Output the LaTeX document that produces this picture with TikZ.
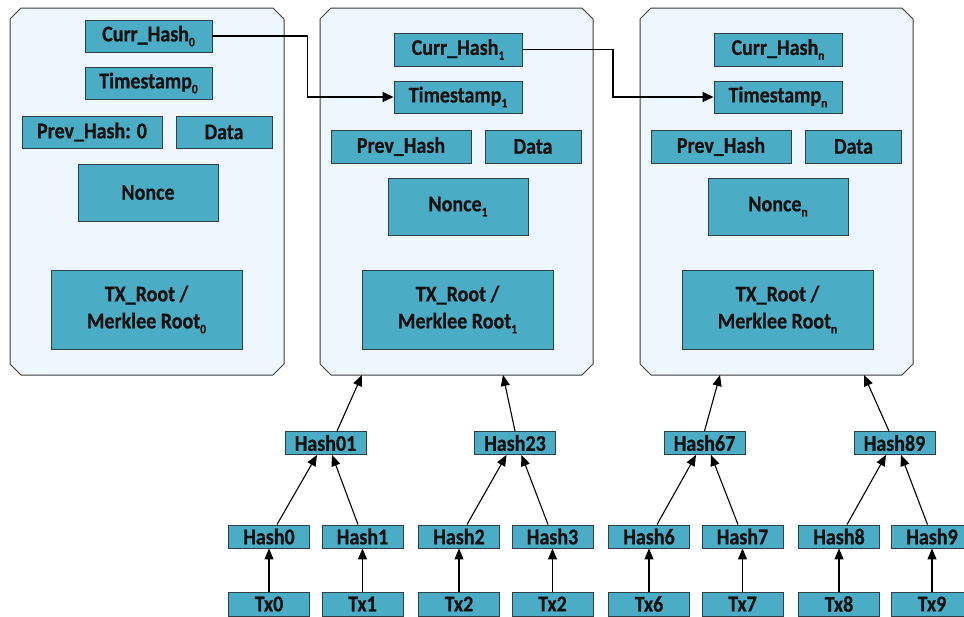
\documentclass[tikz,border=0pt]{standalone}
\usepackage{fontspec}
\setmainfont{Carlito}[FakeStretch=0.89, BoldFeatures={FakeBold=0.6}]
\usetikzlibrary{arrows.meta}
\definecolor{boxteal}{HTML}{4BACC6}
\definecolor{boxedge}{HTML}{2E3F45}
\definecolor{blockfill}{HTML}{EEF7FD}
\definecolor{blockedge}{HTML}{3C3C3C}
\definecolor{inkdark}{HTML}{111111}
\newcommand{\lowidx}[1]{\raisebox{-0.22em}{\fontsize{13}{13}\selectfont #1}}
% chamfered outline around a named block node
\newcommand{\blockframe}[1]{%
  \draw[blockline] ([xshift=11pt]#1.north west) -- ([xshift=-11pt]#1.north east)
    -- ([yshift=-11pt]#1.north east) -- ([yshift=11pt]#1.south east)
    -- ([xshift=-11pt]#1.south east) -- ([xshift=11pt]#1.south west)
    -- ([yshift=11pt]#1.south west) -- ([yshift=-11pt]#1.north west) -- cycle;}
\tikzset{
  blockbox/.style={rectangle, inner sep=0pt, outer sep=0pt,
    minimum width=274pt, minimum height=367pt},
  blockline/.style={draw=blockedge, line width=1pt, fill=blockfill},
  field/.style={rectangle, draw=boxedge, line width=0.9pt, fill=boxteal,
    inner sep=0pt, text=inkdark, font=\bfseries\fontsize{22.5}{25}\selectfont,
    align=center},
  treebox/.style={field, minimum width=81pt, minimum height=23pt},
  txbox/.style={field, minimum width=81pt, minimum height=24pt},
  link/.style={draw=black, line width=1.1pt,
    -{Triangle[length=11pt,width=9pt]}},
  chainlink/.style={draw=black, line width=1.1pt,
    -{Triangle[length=11pt,width=10pt]}}
}
\begin{document}
\begin{tikzpicture}[x=1pt,y=-1pt]
\useasboundingbox (0,0) rectangle (964,616);
\fill[white] (0,0) rectangle (964,616);

% ---- blocks ----
\node[blockbox] (blk0) at (147,191.5) {};
\node[blockbox, minimum width=273pt] (blk1) at (456.5,191.5) {};
\node[blockbox, minimum width=273pt] (blk2) at (776.5,191.5) {};
\blockframe{blk0}
\blockframe{blk1}
\blockframe{blk2}

% block 0 (genesis)
\node[field, minimum width=127pt, minimum height=32pt] (curr0) at (148.5,36) {Curr\_Hash\lowidx{0}};
\node[field, minimum width=127pt, minimum height=32pt] (time0) at (148.5,83) {Timestamp\lowidx{0}};
\node[field, minimum width=140pt, minimum height=32pt] (prev0) at (92,132) {Prev\_Hash: 0};
\node[field, minimum width=96pt, minimum height=32pt] (data0) at (224,132) {Data};
\node[field, minimum width=140pt, minimum height=57pt] (nonce0) at (148,192.5) {Nonce};
\node[field, minimum width=191pt, minimum height=79pt] (root0) at (146.5,309.5) {TX\_Root /\\[2pt]Merklee Root\lowidx{0}};

% block 1
\node[field, minimum width=128pt, minimum height=33pt] (curr1) at (458,49.5) {Curr\_Hash\lowidx{1}};
\node[field, minimum width=128pt, minimum height=32pt] (time1) at (458,97) {Timestamp\lowidx{1}};
\node[field, minimum width=140pt, minimum height=33pt] (prev1) at (401,146.5) {Prev\_Hash};
\node[field, minimum width=96pt, minimum height=33pt] (data1) at (533,146.5) {Data};
\node[field, minimum width=140pt, minimum height=57pt] (nonce1) at (458,206.5) {Nonce\lowidx{1}};
\node[field, minimum width=191pt, minimum height=79pt] (root1) at (457.5,309.5) {TX\_Root /\\[2pt]Merklee Root\lowidx{1}};

% block n
\node[field, minimum width=128pt, minimum height=33pt] (curr2) at (778,49.5) {Curr\_Hash\lowidx{n}};
\node[field, minimum width=128pt, minimum height=32pt] (time2) at (778,97) {Timestamp\lowidx{n}};
\node[field, minimum width=140pt, minimum height=33pt] (prev2) at (721,146.5) {Prev\_Hash};
\node[field, minimum width=96pt, minimum height=33pt] (data2) at (853.5,146.5) {Data};
\node[field, minimum width=140pt, minimum height=57pt] (nonce2) at (778,206.5) {Nonce\lowidx{n}};
\node[field, minimum width=191pt, minimum height=79pt] (root2) at (777.5,309.5) {TX\_Root /\\[2pt]Merklee Root\lowidx{n}};

% chain links: current hash feeds the next block
\draw[chainlink] (curr0.east) -| (307.5,97) -- (time1.west);
\draw[chainlink] (curr1.east) -| (613,97) -- (time2.west);

% ---- Merkle trees ----
\node[treebox] (h01) at (325.5,443) {Hash01};
\node[treebox] (h23) at (515,443) {Hash23};
\node[treebox] (h67) at (704.5,443) {Hash67};
\node[treebox] (h89) at (894.5,443) {Hash89};

\node[treebox] (h0) at (269,536.5) {Hash0};
\node[treebox] (h1) at (362.5,536.5) {Hash1};
\node[treebox] (h2) at (459,536.5) {Hash2};
\node[treebox] (h3) at (552.5,536.5) {Hash3};
\node[treebox] (h6) at (649,536.5) {Hash6};
\node[treebox] (h7) at (742.5,536.5) {Hash7};
\node[treebox] (h8) at (839,536.5) {Hash8};
\node[treebox] (h9) at (932,536.5) {Hash9};

\node[txbox] (t0) at (269,604) {Tx0};
\node[txbox] (t1) at (362.5,604) {Tx1};
\node[txbox] (t2) at (459,604) {Tx2};
\node[txbox] (t3) at (552.5,604) {Tx2};
\node[txbox] (t6) at (649,604) {Tx6};
\node[txbox] (t7) at (742.5,604) {Tx7};
\node[txbox] (t8) at (839,604) {Tx8};
\node[txbox] (t9) at (932,604) {Tx9};

% transactions to leaf hashes
\foreach \a/\b in {t0/h0,t1/h1,t2/h2,t3/h3,t6/h6,t7/h7,t8/h8,t9/h9}
  \draw[link] (\a.north) -- (\b.south);

% leaf hashes to pair hashes
\draw[link] ([xshift=8pt]h0.north) -- ([xshift=-8.5pt]h01.south);
\draw[link] ([xshift=-4.5pt]h1.north) -- ([xshift=6.5pt]h01.south);
\draw[link] ([xshift=8pt]h2.north) -- ([xshift=-8.5pt]h23.south);
\draw[link] ([xshift=-4.5pt]h3.north) -- ([xshift=6.5pt]h23.south);
\draw[link] ([xshift=8pt]h6.north) -- ([xshift=-8.5pt]h67.south);
\draw[link] ([xshift=-4.5pt]h7.north) -- ([xshift=6.5pt]h67.south);
\draw[link] ([xshift=8pt]h8.north) -- ([xshift=-8.5pt]h89.south);
\draw[link] ([xshift=-4.5pt]h9.north) -- ([xshift=6.5pt]h89.south);

% pair hashes up to the block headers
\draw[link] ([xshift=11.5pt]h01.north) -- ([xshift=-94.5pt]blk1.south);
\draw[link] (h23.north) -- ([xshift=46.5pt]blk1.south);
\draw[link] (h67.north) -- ([xshift=-56.5pt]blk2.south);
\draw[link] ([xshift=-5.5pt]h89.north) -- ([xshift=87.5pt]blk2.south);
\end{tikzpicture}
\end{document}
